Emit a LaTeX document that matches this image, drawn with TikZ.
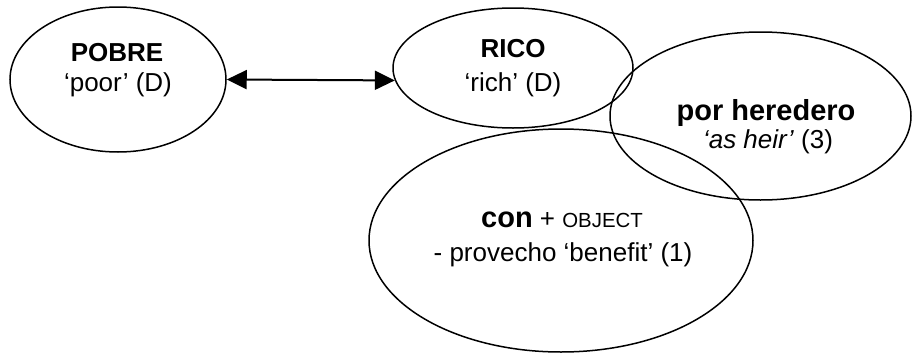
\documentclass[tikz,border=0pt]{standalone}
\usepackage{fontspec}
\setmainfont{Liberation Sans}
\usetikzlibrary{shapes.geometric, arrows.meta}

\begin{document}
\begin{tikzpicture}[x=0.5pt, y=-0.5pt,
		sense/.style={draw, ellipse, inner sep=0pt, line width=0.75pt},
		word/.style={anchor=base, inner sep=0pt, font=\fontsize{13}{15}\selectfont\bfseries},
		bigword/.style={anchor=base, inner sep=0pt, font=\fontsize{14.5}{17}\selectfont\bfseries},
		gloss/.style={anchor=base, inner sep=0pt, font=\fontsize{13}{15}\selectfont},
		link/.style={line width=1pt, {Triangle[length=10pt,width=9.5pt]}-{Triangle[length=10pt,width=9.5pt]}}]
	\useasboundingbox (0,0) rectangle (912,354);
	
	%ellipses
	\node[sense, minimum width=108pt, minimum height=72.5pt] (pobre) at (118,79.5){};
	\node[sense, minimum width=120pt, minimum height=60pt] (rico) at (513,68){};
	\node[sense, minimum width=150.5pt, minimum height=84pt] (heredero) at (760.5,116){};
	\node[sense, minimum width=192pt, minimum height=111.5pt] (con) at (561,240.5){};
	
	%texts
	\node[word] (pobre-w) at (117,61){POBRE};
	\node[gloss] (pobre-g) at (118,91){‘poor’ (D)};
	\node[word] (rico-w) at (513,57){RICO};
	\node[gloss] (rico-g) at (513,91){‘rich’ (D)};
	\node[bigword] (heredero-w) at (766,120){por heredero};
	\node[gloss] (heredero-g) at (768,148){\textit{‘as heir’} (3)};
	\node[gloss] (con-w) at (562,227){{\fontsize{14.5}{17}\selectfont\bfseries con} + {\fontsize{10.2}{12}\selectfont OBJECT}};
	\node[gloss] (con-g) at (563,261){- provecho ‘benefit’ (1)};
	
	\draw[link] (pobre.east) -- (rico.186);
\end{tikzpicture}
\end{document}
